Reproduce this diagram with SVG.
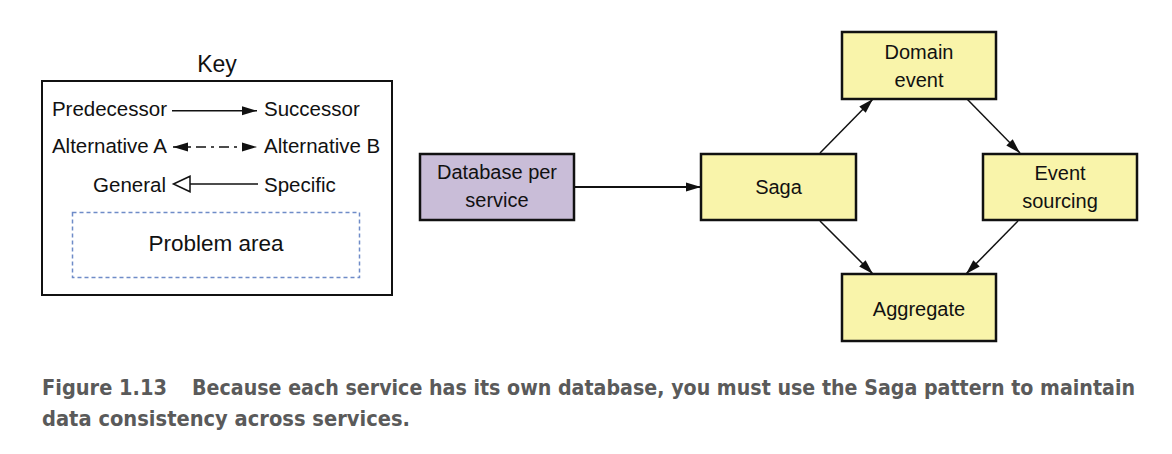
<svg xmlns="http://www.w3.org/2000/svg" width="1172" height="454" viewBox="0 0 1172 454">
<style>
  .t { font-family: "Liberation Sans", Arial, sans-serif; font-size: 20px; fill: #111; }
  .k { font-size: 20.5px; }
  .node { stroke: #111; stroke-width: 2.5; }
  .yel { fill: #f9f4aa; }
  .pur { fill: #c9bdd8; }
  .conn { stroke: #111; stroke-width: 1.5; fill: none; }
  .cap { font-family: "DejaVu Sans", "Liberation Sans", sans-serif; font-weight: bold; font-size: 20.5px; fill: #5a5a5a; }
</style>
<defs>
  <marker id="ah" markerUnits="userSpaceOnUse" markerWidth="16" markerHeight="10" refX="15" refY="5" orient="auto">
    <path d="M0,0.5 L15,5 L0,9.5 Z" fill="#111"/>
  </marker>
  <marker id="ahs" markerUnits="userSpaceOnUse" markerWidth="16" markerHeight="10" refX="15" refY="5" orient="auto-start-reverse">
    <path d="M0,0.5 L15,5 L0,9.5 Z" fill="#111"/>
  </marker>
</defs>
<rect width="1172" height="454" fill="#fff"/>

<g id="key">
  <text class="t" x="217" y="72" text-anchor="middle" style="font-size:23px">Key</text>
  <rect x="42" y="81" width="350" height="214" fill="none" stroke="#111" stroke-width="2"/>
  <text class="t k" x="167" y="116" text-anchor="end">Predecessor</text>
  <text class="t k" x="264" y="116">Successor</text>
  <line class="conn" x1="172" y1="110.7" x2="257" y2="110.7" marker-end="url(#ah)"/>
  <text class="t k" x="167" y="153.3" text-anchor="end">Alternative A</text>
  <text class="t k" x="264" y="153.3">Alternative B</text>
  <line class="conn" x1="173" y1="147" x2="257" y2="147" stroke-dasharray="10 5 3 5" marker-start="url(#ahs)" marker-end="url(#ahs)"/>
  <text class="t k" x="166" y="191.7" text-anchor="end">General</text>
  <text class="t k" x="264" y="191.7">Specific</text>
  <line class="conn" x1="190" y1="184" x2="258" y2="184"/>
  <path d="M173.5,184 L190,176.2 L190,191.8 Z" fill="#fff" stroke="#111" stroke-width="1.5"/>
  <rect x="72.5" y="212.5" width="287" height="65" fill="none" stroke="#6f8cc8" stroke-width="1.5" stroke-dasharray="4 3"/>
  <text class="t" x="216" y="251" text-anchor="middle" style="font-size:22.5px">Problem area</text>
</g>

<g id="connectors">
  <line class="conn" x1="575" y1="187" x2="700" y2="187" style="stroke-width:2"/>
  <path d="M686,182.5 L701,187 L686,191.5 Z" fill="#111"/>
  <line class="conn" x1="820" y1="153" x2="873" y2="99" marker-end="url(#ah)"/>
  <line class="conn" x1="967" y1="99" x2="1020" y2="153" marker-end="url(#ah)"/>
  <line class="conn" x1="820" y1="221" x2="873" y2="274" marker-end="url(#ah)"/>
  <line class="conn" x1="1018" y1="221" x2="966" y2="274" marker-end="url(#ah)"/>
</g>

<g id="db">
  <rect class="node pur" x="420" y="154" width="154" height="66"/>
  <text class="t" x="497" y="179.3" text-anchor="middle">Database per</text>
  <text class="t" x="497" y="206.7" text-anchor="middle">service</text>
</g>
<g id="saga">
  <rect class="node yel" x="701" y="154" width="155" height="66"/>
  <text class="t" x="778.5" y="194" text-anchor="middle">Saga</text>
</g>
<g id="domain-event">
  <rect class="node yel" x="842" y="32" width="154" height="67"/>
  <text class="t" x="919" y="59" text-anchor="middle">Domain</text>
  <text class="t" x="919" y="86.7" text-anchor="middle">event</text>
</g>
<g id="event-sourcing">
  <rect class="node yel" x="983" y="154" width="154" height="66"/>
  <text class="t" x="1060" y="180" text-anchor="middle">Event</text>
  <text class="t" x="1060" y="207.7" text-anchor="middle">sourcing</text>
</g>
<g id="aggregate">
  <rect class="node yel" x="842" y="274" width="154" height="67"/>
  <text class="t" x="919" y="316" text-anchor="middle">Aggregate</text>
</g>

<g id="caption">
  <text class="cap" x="42" y="395" textLength="125" lengthAdjust="spacingAndGlyphs">Figure 1.13</text>
  <text class="cap" x="192" y="395" textLength="943" lengthAdjust="spacingAndGlyphs">Because each service has its own database, you must use the Saga pattern to maintain</text>
  <text class="cap" x="42" y="426" textLength="368" lengthAdjust="spacingAndGlyphs">data consistency across services.</text>
</g>
</svg>
